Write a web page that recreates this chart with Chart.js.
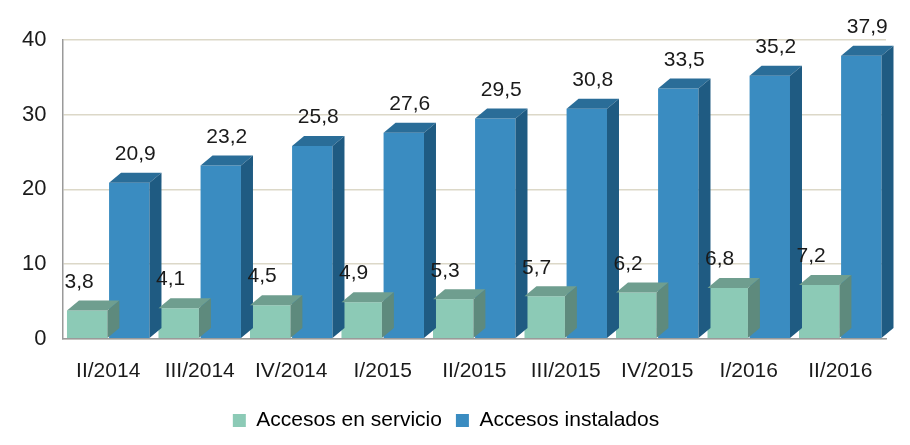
<!DOCTYPE html>
<html>
<head>
<meta charset="utf-8">
<script src="https://cdn.jsdelivr.net/npm/chart.js@4.4.1/dist/chart.umd.min.js"></script>
<style>
html,body{margin:0;padding:0;background:#fff;}
#wrap{width:910px;height:445px;}
</style>
</head>
<body>
<div id="wrap"><canvas id="c" width="910" height="445"></canvas></div>
<script>
const categories = ["II/2014","III/2014","IV/2014","I/2015","II/2015","III/2015","IV/2015","I/2016","II/2016"];
const enServicio = [3.8,4.1,4.5,4.9,5.3,5.7,6.2,6.8,7.2];
const instalados = [20.9,23.2,25.8,27.6,29.5,30.8,33.5,35.2,37.9];
const yTicks = [0,10,20,30,40];

const FRONT = ["#8ccab6","#3a8cc1"];
const TOP = ["#6f9e8f","#2a6d98"];
const SIDE = ["#5e8a7d","#1f5b82"];
const DX = 12, DY = 10;
const FONT = "'Liberation Sans', Arial, sans-serif";

const depthPlugin = {
  id: 'depth',
  afterDatasetsDraw(chart) {
    const ctx = chart.ctx;
    ctx.save();
    [1,0].forEach(i => {
      const meta = chart.getDatasetMeta(i);
      meta.data.forEach((bar, j) => {
        const p = bar.getProps(['x','y','base','width'], true);
        const l = p.x - p.width/2, r = p.x + p.width/2;
        ctx.fillStyle = TOP[i];
        ctx.beginPath();
        ctx.moveTo(l, p.y); ctx.lineTo(l+DX, p.y-DY); ctx.lineTo(r+DX, p.y-DY); ctx.lineTo(r, p.y);
        ctx.closePath(); ctx.fill();
        ctx.fillStyle = SIDE[i];
        ctx.beginPath();
        ctx.moveTo(r, p.y); ctx.lineTo(r+DX, p.y-DY); ctx.lineTo(r+DX, p.base-DY); ctx.lineTo(r, p.base);
        ctx.closePath(); ctx.fill();
      });
    });
    ctx.fillStyle = "#1a1a1a";
    ctx.font = "21px " + FONT;
    ctx.textAlign = "center";
    ctx.textBaseline = "bottom";
    [0,1].forEach(i => {
      const meta = chart.getDatasetMeta(i);
      const vals = chart.data.datasets[i].data;
      meta.data.forEach((bar, j) => {
        const p = bar.getProps(['x','y'], true);
        const txt = vals[j].toFixed(1).replace('.', ',');
        const off = i === 0 ? -8 : DX/2;
        ctx.fillText(txt, p.x + off, p.y - DY - 8);
      });
    });
    ctx.restore();
  }
};

new Chart(document.getElementById('c'), {
  type: 'bar',
  data: {
    labels: categories,
    datasets: [
      { label: 'Accesos en servicio', data: enServicio, backgroundColor: FRONT[0], borderWidth: 0 },
      { label: 'Accesos instalados', data: instalados, backgroundColor: FRONT[1], borderWidth: 0 }
    ]
  },
  options: {
    responsive: false,
    animation: false,
    devicePixelRatio: 1,
    layout: { padding: { left: 6, right: 24, top: 40, bottom: 4 } },
    datasets: { bar: { categoryPercentage: 0.92, barPercentage: 0.96 } },
    plugins: {
      tooltip: { enabled: false },
      legend: {
        position: 'bottom',
        labels: {
          color: '#1a1a1a',
          font: { family: FONT, size: 21 },
          boxWidth: 13, boxHeight: 13, padding: 14,
          generateLabels(chart) {
            return chart.data.datasets.map((d, i) => ({
              text: d.label, fillStyle: FRONT[i], strokeStyle: FRONT[i], lineWidth: 0, datasetIndex: i
            }));
          }
        }
      }
    },
    scales: {
      y: {
        min: 0, max: 40,
        afterBuildTicks(axis) { axis.ticks = yTicks.map(v => ({ value: v })); },
        ticks: { color: '#1a1a1a', font: { family: FONT, size: 22 }, padding: 16 },
        grid: { color: '#dcd8c8', lineWidth: 1.5, drawTicks: false },
        border: { display: true, color: '#9a9a9a', width: 1.5 }
      },
      x: {
        ticks: { color: '#1a1a1a', font: { family: FONT, size: 21 }, padding: 12, maxRotation: 0, autoSkip: false },
        grid: { display: false },
        border: { display: true, color: '#9a9a9a', width: 1.5 }
      }
    }
  },
  plugins: [depthPlugin]
});
</script>
</body>
</html>
